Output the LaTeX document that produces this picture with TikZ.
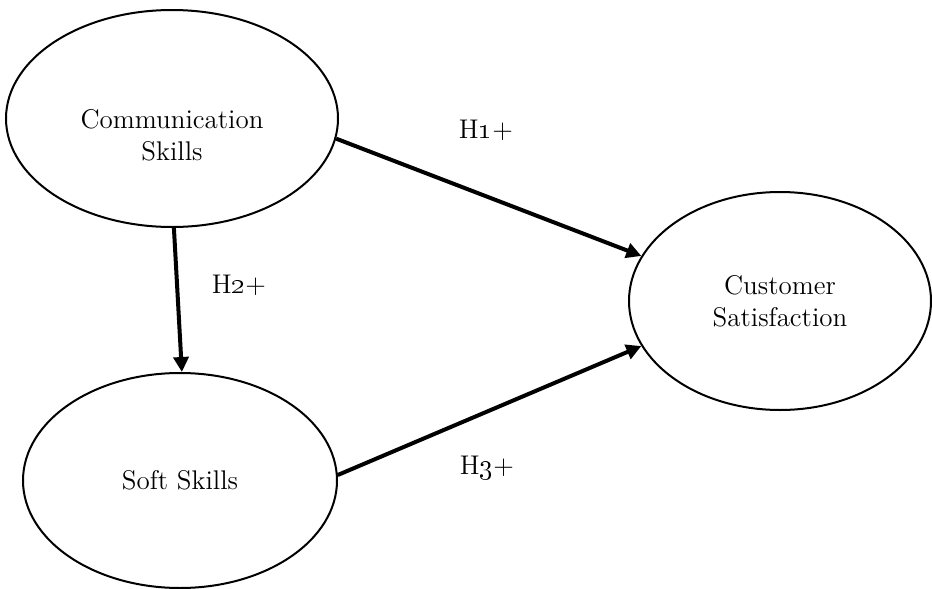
\documentclass[tikz,border=0pt]{standalone}
\usepackage{tikz}
\usetikzlibrary{arrows.meta,positioning,shapes.geometric}
\tikzset{
  construct/.style={draw=black,ellipse,line width=1pt,inner sep=0pt,align=center},
  path/.style={-{Triangle[length=7.5pt,width=7.5pt]},line width=2pt,draw=black},
  hyp/.style={anchor=base,inner sep=0pt}
}

\begin{document}
\begin{tikzpicture}[x=0.5pt,y=-0.5pt,font=\fontsize{13.5}{16}\selectfont]
  \useasboundingbox (0,0) rectangle (932,589);
  \node[construct, minimum width=332pt*0.5, minimum height=217pt*0.5,
        label={[yshift=-8.5pt,align=center]center:Communication\\Skills}] (comm) at (172,118.5) {};
  \node[construct, minimum width=314pt*0.5, minimum height=215pt*0.5] (soft) at (180,480.5) {Soft Skills};
  \node[construct, minimum width=302pt*0.5, minimum height=218pt*0.5] (sat) at (780,301) {Customer\\Satisfaction};
  \node[hyp] (h1) at (486,138) {H\oldstylenums{1}+};
  \node[hyp] (h2) at (239,293) {H\oldstylenums{2}+};
  \node[hyp] (h3) at (487,474) {H\oldstylenums{3}+};
  \draw[path] (comm.-7) -- (sat.162.6); \draw[path] (comm.-89.5) -- (soft.89.5);
  \draw[path] (soft.2) -- (sat.198.4);
\end{tikzpicture}
\end{document}
